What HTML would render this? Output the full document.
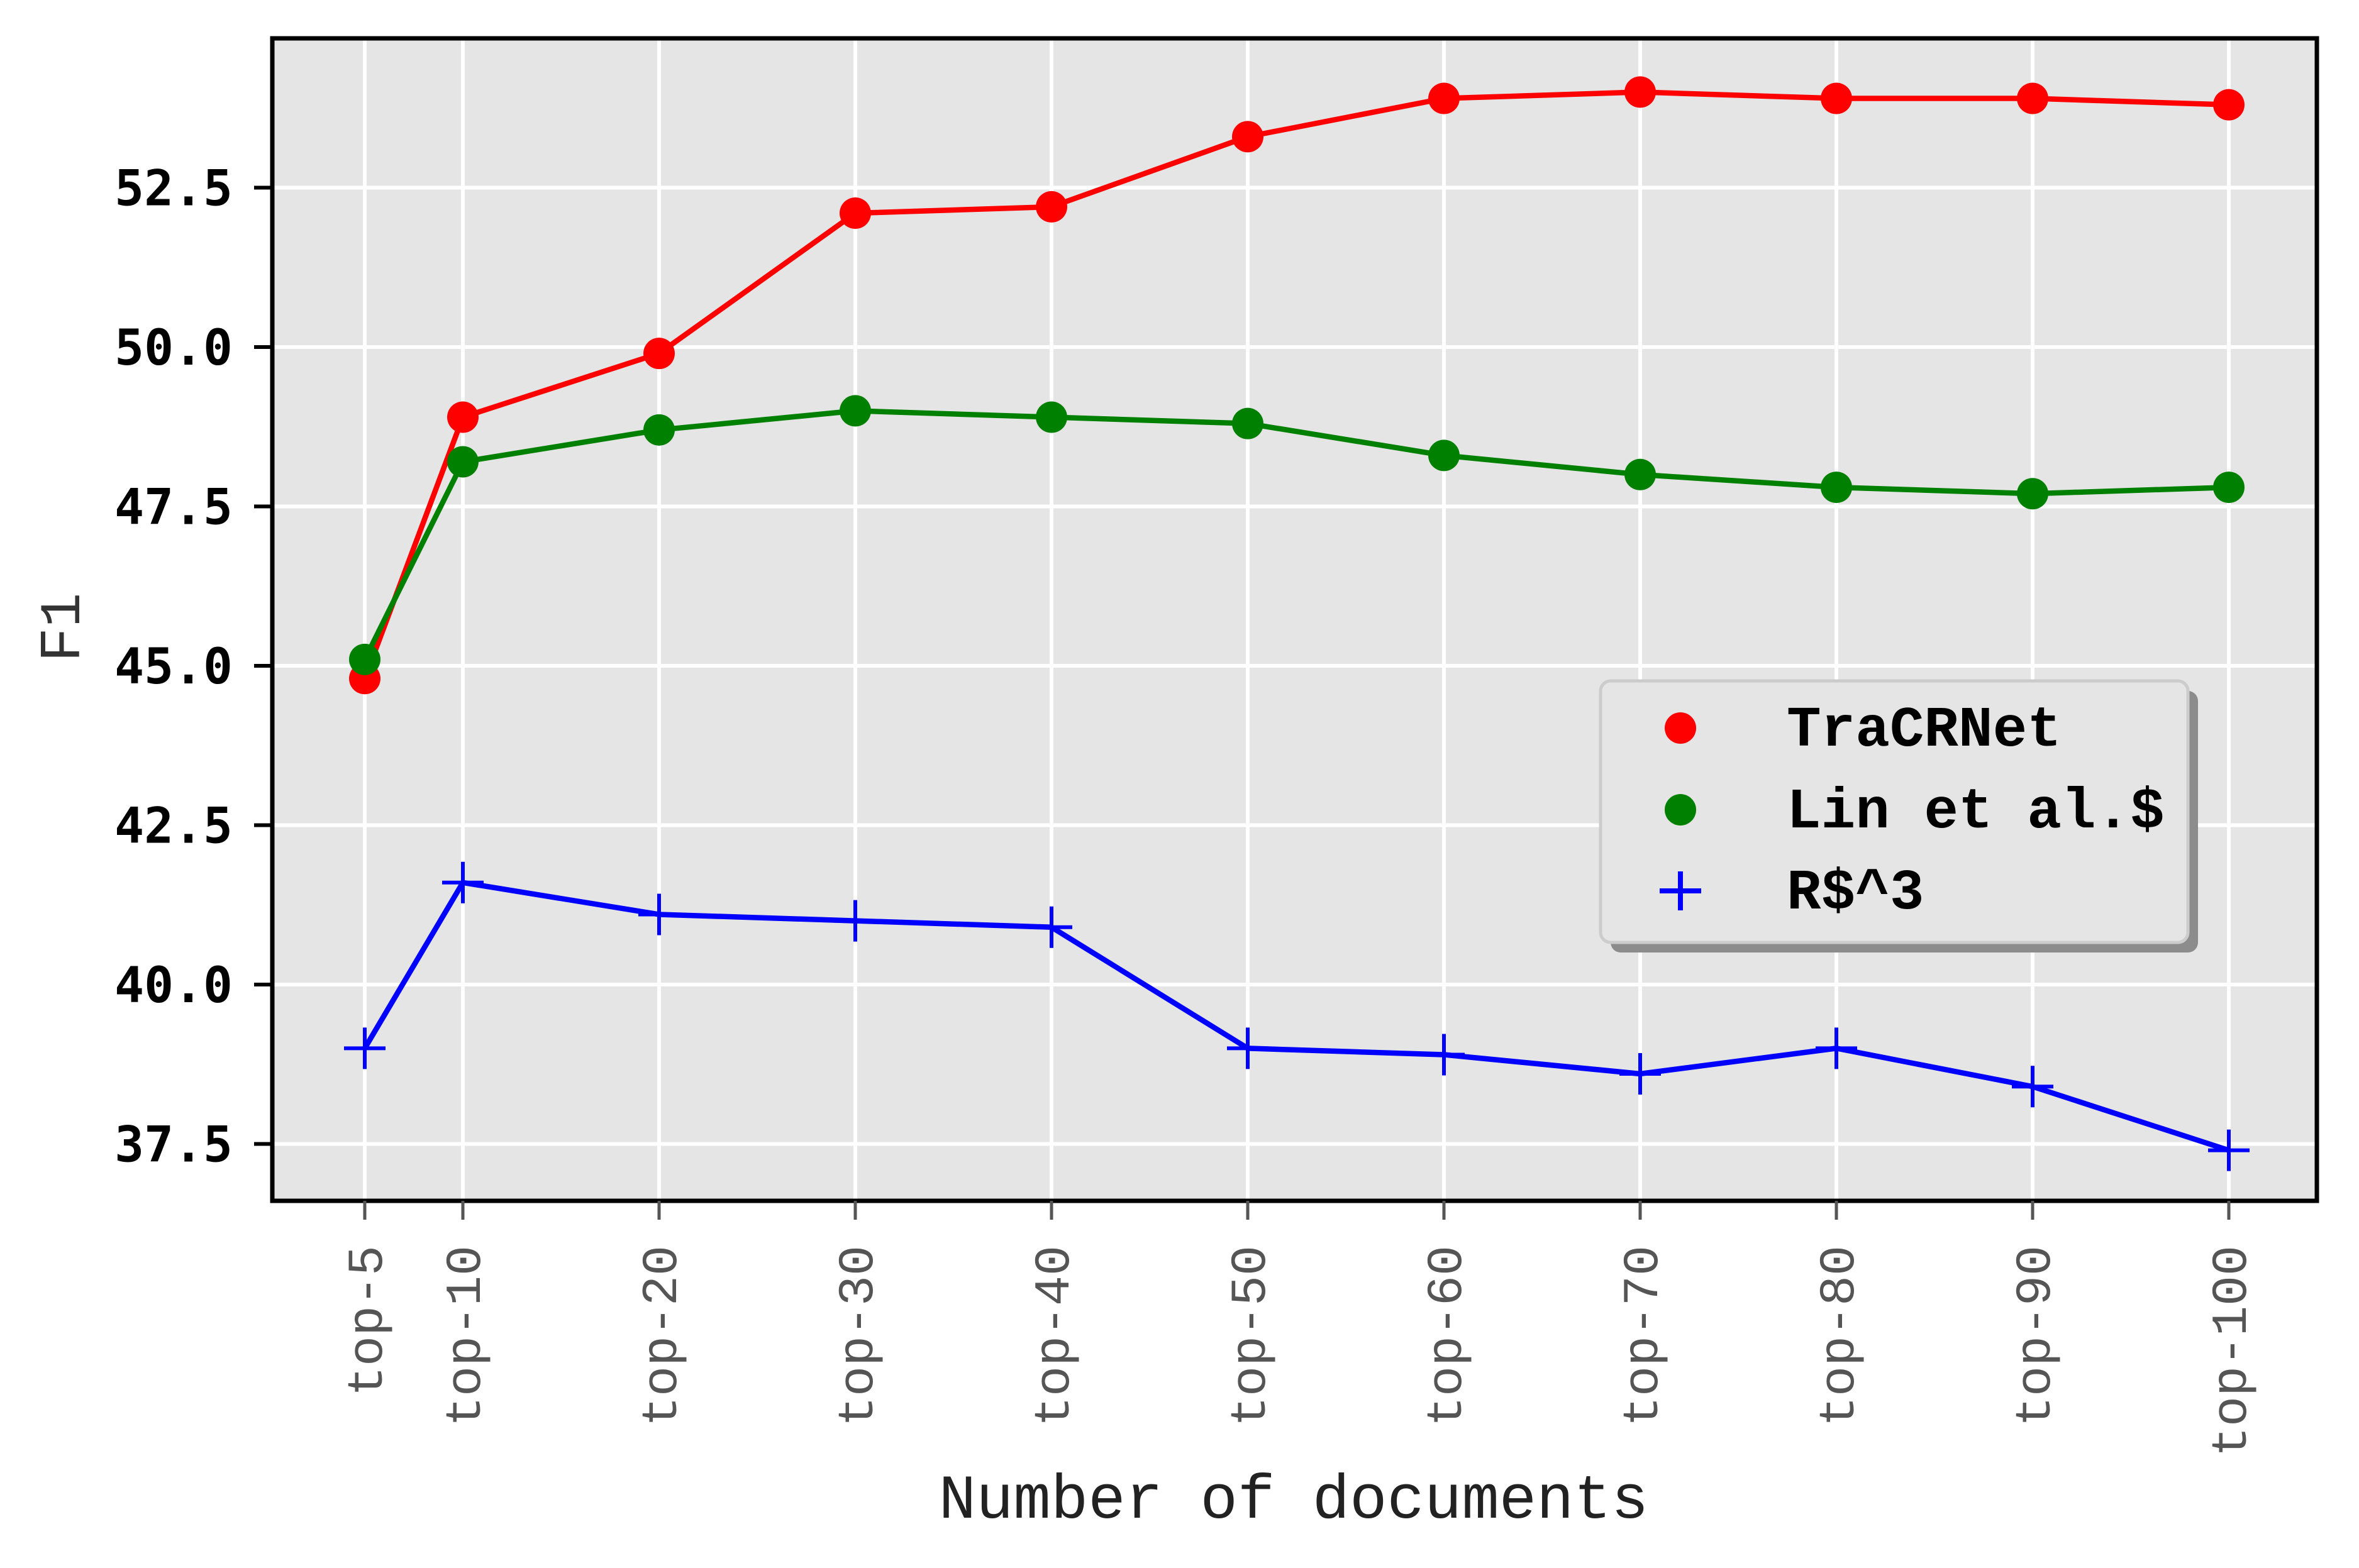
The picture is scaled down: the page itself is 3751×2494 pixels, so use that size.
<!DOCTYPE html>
<html><head><meta charset="utf-8"><style>
html,body{margin:0;padding:0;background:#fff;}
svg{display:block;}
</style></head><body>
<svg id="chart" width="3751" height="2494" viewBox="0 0 3751 2494" xmlns="http://www.w3.org/2000/svg">
<rect x="0" y="0" width="3751" height="2494" fill="#fff"/>
<rect x="433" y="61" width="3251" height="1849" fill="#e5e5e5"/>
<g id="grid"></g>
<g id="series"></g>
<rect x="433" y="61" width="3251" height="1849" fill="none" stroke="#000" stroke-width="7"/>
<g id="ticks"></g>
<text x="2057" y="2414" text-anchor="middle" font-family="'Liberation Mono', monospace" font-size="99" fill="#222">Number of documents</text>
<text transform="translate(126,998) rotate(-90)" text-anchor="middle" font-family="'Liberation Mono', monospace" font-size="92" fill="#333">F1</text>
<g id="legend">
<rect x="2561" y="1099" width="934" height="416" rx="16" fill="#8c8c8c"/>
<rect x="2545" y="1083" width="934" height="416" rx="16" fill="#e5e5e5" stroke="#cccccc" stroke-width="5"/>
<circle cx="2672" cy="1158" r="25" fill="#ff0000"/>
<text x="2841" y="1186" font-family="'Liberation Mono', monospace" font-weight="bold" font-size="91" fill="#000">TraCRNet</text>
<circle cx="2672" cy="1288" r="25" fill="#008000"/>
<text x="2841" y="1316" font-family="'Liberation Mono', monospace" font-weight="bold" font-size="91" fill="#000">Lin et al.$</text>
<path d="M2639 1417 H2705 M2672 1386 V1448" stroke="#0000ff" stroke-width="8"/>
<text x="2841" y="1445" font-family="'Liberation Mono', monospace" font-weight="bold" font-size="91" fill="#000">R$^3</text>
</g>
</svg>
<script>
const categories = ["top-5","top-10","top-20","top-30","top-40","top-50","top-60","top-70","top-80","top-90","top-100"];
const categoryPos = [5,10,20,30,40,50,60,70,80,90,100];
const tracrnet = [44.8,48.9,49.9,52.1,52.2,53.3,53.9,54.0,53.9,53.9,53.8];
const linEtAl = [45.1,48.2,48.7,49.0,48.9,48.8,48.3,48.0,47.8,47.7,47.8];
const r3 = [39.0,41.6,41.1,41.0,40.9,39.0,38.9,38.6,39.0,38.4,37.4];
const yTicks = [37.5,40.0,42.5,45.0,47.5,50.0,52.5];
const yTickLabels = ["37.5","40.0","42.5","45.0","47.5","50.0","52.5"];

const NS = "http://www.w3.org/2000/svg";
function xs(v){ return 736 + (v - 10) * 31.2; }
function ys(v){ return 298.5 + (52.5 - v) * 101.4; }
function mk(tag, attrs, parent){ const e = document.createElementNS(NS, tag); for (const k in attrs) e.setAttribute(k, attrs[k]); parent.appendChild(e); return e; }

const grid = document.getElementById('grid');
const ticks = document.getElementById('ticks');
const series = document.getElementById('series');

categoryPos.forEach((p, i) => {
  const g = mk('line', {x1: xs(p), x2: xs(p), y1: 61, y2: 1910, stroke: '#fff', 'stroke-width': 6}, grid);
  
  
  const t = mk('line', {x1: xs(p), x2: xs(p), y1: 1910, y2: 1940, stroke: '#555', 'stroke-width': 5}, ticks);
  
  
  const lb = mk('text', {transform: 'translate(' + (xs(p) + 27) + ',1981) rotate(-90)', 'text-anchor': 'end', 'font-family': "'Liberation Mono', monospace", 'font-size': 80, fill: '#555'}, ticks);
  lb.textContent = categories[i];
  
  
});
yTicks.forEach((v, i) => {
  const g = mk('line', {x1: 433, x2: 3684, y1: ys(v), y2: ys(v), stroke: '#fff', 'stroke-width': 6}, grid);
  
  
  const t = mk('line', {x1: 404, x2: 433, y1: ys(v), y2: ys(v), stroke: '#000', 'stroke-width': 6}, ticks);
  
  
  const lb = mk('text', {x: 370, y: ys(v) + 28, 'text-anchor': 'end', 'font-family': "'DejaVu Sans Mono', monospace", 'font-weight': 'bold', 'font-size': 78, fill: '#000'}, ticks);
  lb.textContent = yTickLabels[i];
  
  
});

function drawSeries(vals, color, name, marker){
  const pts = vals.map((v, i) => xs(categoryPos[i]) + ',' + ys(v)).join(' ');
  const pl = mk('polyline', {points: pts, fill: 'none', stroke: color, 'stroke-width': 8.5, 'stroke-linejoin': 'round'}, series);
  
  
  vals.forEach((v, i) => {
    const cx = xs(categoryPos[i]), cy = ys(v);
    let m;
    if (marker === 'dot') {
      m = mk('circle', {cx: cx, cy: cy, r: 25, fill: color}, series);
    } else {
      m = mk('path', {d: 'M' + (cx - 33) + ' ' + cy + ' H' + (cx + 33) + ' M' + cx + ' ' + (cy - 33) + ' V' + (cy + 33), stroke: color, 'stroke-width': 6}, series);
    }
    
    
  });
}
drawSeries(tracrnet, '#ff0000', 'tracrnet', 'dot');
drawSeries(linEtAl, '#008000', 'lin-et-al', 'dot');
drawSeries(r3, '#0000ff', 'r3', 'plus');
</script>
</body></html>
